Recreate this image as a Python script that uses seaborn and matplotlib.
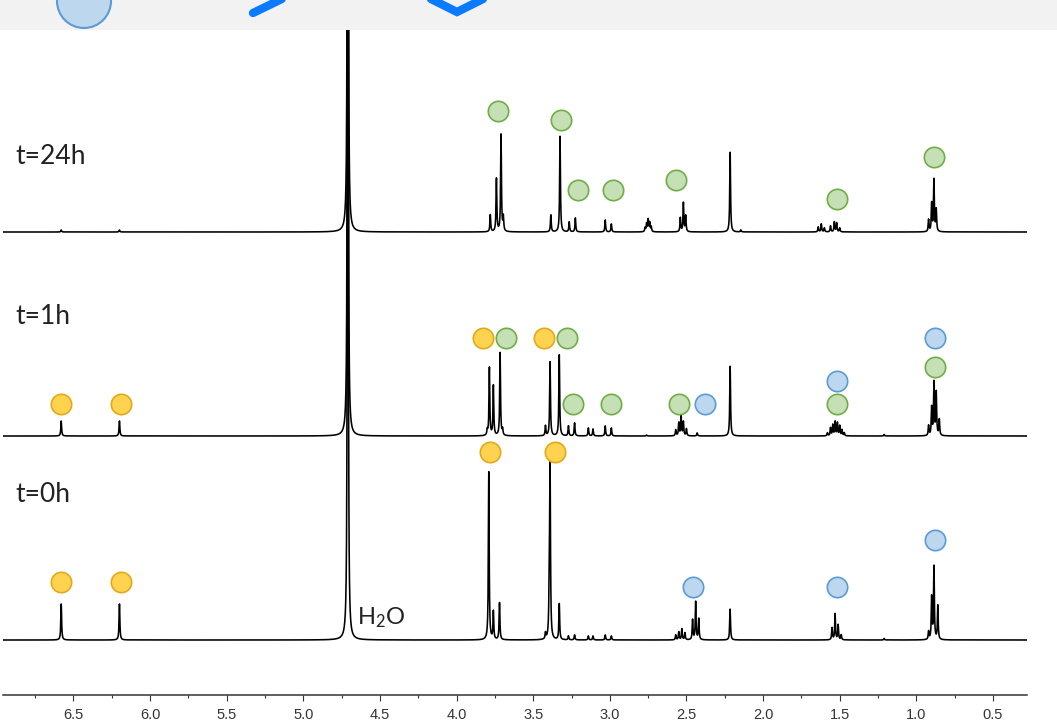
import numpy as np
import pandas as pd
import seaborn as sns
import matplotlib.pyplot as plt
from matplotlib.ticker import MultipleLocator
from matplotlib.patches import Circle, Rectangle

# stacked 1H NMR spectra, peaks (ppm, height)
spectra = ['t=0h', 't=1h', 't=24h']
offsets = [55, 259, 463]

h2o_ppm = 4.71
h2o_height = 5000

ppm_0h = [6.58, 6.20, 3.79, 3.76, 3.72, 3.42, 3.395, 3.39, 3.33, 3.27, 3.23, 3.14, 3.11,
          3.03, 2.99, 2.57, 2.55, 2.53, 2.51, 2.46, 2.44, 2.42, 2.215, 1.55, 1.53, 1.51,
          1.49, 1.21, 0.92, 0.90, 0.885, 0.86]
int_0h = [36, 36, 168, 28, 37, 6, 50, 172, 36, 4, 5, 4, 4,
          5, 4, 5, 8, 11, 7, 20, 38, 21, 31, 12, 26, 15,
          5, 1.5, 8, 42, 73, 34]

ppm_1h = [6.58, 6.20, 3.80, 3.786, 3.76, 3.716, 3.70, 3.42, 3.39, 3.33, 3.27, 3.23, 3.14,
          3.11, 3.03, 2.99, 2.76, 2.57, 2.55, 2.535, 2.52, 2.50, 2.43, 2.215, 1.58, 1.56,
          1.545, 1.53, 1.515, 1.50, 1.485, 1.47, 1.21, 0.92, 0.90, 0.885, 0.87, 0.85]
int_1h = [15, 15, 5, 68, 50, 83, 6, 10, 74, 81, 10, 13, 8,
          7, 10, 8, 1, 6, 13, 21, 14, 7, 3, 70, 3, 8,
          11, 14, 13, 10, 6, 3, 1.5, 10, 28, 53, 43, 16]

ppm_24h = [6.58, 6.20, 3.78, 3.74, 3.71, 3.695, 3.385, 3.325, 3.265, 3.225, 3.03, 2.99,
           2.77, 2.76, 2.75, 2.74, 2.73, 2.54, 2.52, 2.505, 2.215, 2.145, 1.64, 1.62,
           1.60, 1.56, 1.535, 1.52, 1.50, 0.92, 0.90, 0.885, 0.87]
int_24h = [2, 2, 17, 53, 97, 14, 17, 96, 10, 14, 12, 8,
           4, 8, 12, 9, 5, 14, 29, 16, 80, 2, 5, 8,
           4, 6, 10, 9, 4, 12, 28, 52, 22]

peak_ppm = [ppm_0h, ppm_1h, ppm_24h]
peak_int = [int_0h, int_1h, int_24h]

# assignment circles: spectrum index, ppm, height above baseline, species
mark_spec = [2, 2, 2, 2, 2, 2, 2,
             1, 1, 1, 1, 1, 1, 1, 1, 1, 1, 1, 1, 1, 1,
             0, 0, 0, 0, 0, 0, 0]
mark_ppm = [3.73, 3.32, 3.21, 2.98, 2.57, 1.52, 0.885,
            3.83, 3.68, 3.43, 3.28, 6.58, 6.19, 3.24, 2.99, 2.55, 2.38, 1.52, 1.52, 0.88, 0.88,
            3.78, 3.36, 6.58, 6.19, 2.46, 1.52, 0.88]
mark_height = [121, 112, 42, 42, 52, 33, 75,
               98, 98, 98, 98, 32, 32, 32, 32, 32, 32, 55, 32, 98, 69,
               188, 188, 58, 58, 53, 53, 100]
mark_kind = ['green', 'green', 'green', 'green', 'green', 'green', 'green',
             'yellow', 'green', 'yellow', 'green', 'yellow', 'yellow', 'green', 'green', 'green',
             'blue', 'blue', 'green', 'blue', 'green',
             'yellow', 'yellow', 'yellow', 'yellow', 'blue', 'blue', 'blue']

kind_colors = {'yellow': ('#FFD34F', '#E2A919'),
               'green': ('#C5E0B4', '#70AD47'),
               'blue': ('#BDD7EE', '#5B9BD5')}

sns.set_style('white')
plt.rcParams['font.family'] = ['Lato', 'DejaVu Sans']
plt.rcParams['mathtext.fontset'] = 'custom'
plt.rcParams['mathtext.rm'] = 'Lato'
plt.rcParams['mathtext.default'] = 'regular'

# build line shapes (Lorentzian sum) from the peak lists
grid = np.arange(0.27, 6.97, 0.0004)
rows = []
for name, off, pp, ii in zip(spectra, offsets, peak_ppm, peak_int):
    y = np.zeros_like(grid)
    for p, h in zip(pp, ii):
        y += h * 0.003**2 / ((grid - p)**2 + 0.003**2)
    y += h2o_height * 0.0012**2 / ((grid - h2o_ppm)**2 + 0.0012**2)
    rows.append(pd.DataFrame({'ppm': grid, 'intensity': y + off, 'spectrum': name}))
df = pd.concat(rows, ignore_index=True)

marks = pd.DataFrame({'ppm': mark_ppm,
                      'y': [offsets[s] + h for s, h in zip(mark_spec, mark_height)],
                      'kind': mark_kind})

fig = plt.figure(figsize=(10.57, 7.21), dpi=100)

# cropped header strip from the original figure
top = fig.add_axes([0, 0, 1, 1])
top.set_xlim(0, 1057)
top.set_ylim(721, 0)
top.axis('off')
top.add_patch(Rectangle((0, 0), 1057, 30, color='#F2F2F2', lw=0))
top.add_patch(Circle((84, 1), 27, facecolor='#BDD7EE', edgecolor='#5B9BD5', lw=1.5))
top.plot([253, 292], [13, -6], color='#0A7BFF', lw=6, solid_capstyle='round')
top.plot([425, 457, 489], [-4, 12, -4], color='#0A7BFF', lw=6, solid_capstyle='round',
         solid_joinstyle='miter')

ax = fig.add_axes([3 / 1057, 26 / 721, 1024 / 1057, 665 / 721])
ax.set_facecolor('none')
sns.lineplot(data=df, x='ppm', y='intensity', units='spectrum', estimator=None,
             color='black', linewidth=1.15, sort=False, ax=ax, legend=False)

for kind, (fill, edge) in kind_colors.items():
    sub = marks[marks['kind'] == kind]
    sns.scatterplot(data=sub, x='ppm', y='y', s=215, color=fill, edgecolor=edge,
                    linewidth=1.2, zorder=5, ax=ax, legend=False)

for name, off, ty in zip(spectra, offsets, [200, 379, 538]):
    ax.text(6.88, ty, name, fontsize=19, color='#222222', va='center', ha='left')
ax.text(4.65, offsets[0] + 22, r'H$_2$O', fontsize=17, color='#222222', va='center', ha='left')

ax.set_xlim(6.96, 0.278)
ax.set_ylim(0, 665)
ax.set_xlabel('')
ax.set_ylabel('')
ax.set_yticks([])
for side in ['left', 'right', 'top']:
    ax.spines[side].set_visible(False)
ax.spines['bottom'].set_color('#333333')
ax.spines['bottom'].set_linewidth(1.1)
ax.set_xticks(np.arange(0.5, 6.6, 0.5))
ax.set_xticklabels([f'{v:.1f}' for v in np.arange(0.5, 6.6, 0.5)],
                   family=['Liberation Sans Narrow', 'Liberation Sans', 'DejaVu Sans'])
ax.xaxis.set_minor_locator(MultipleLocator(0.25))
ax.tick_params(axis='x', which='both', bottom=True, direction='out', width=0.8,
               color='#333333')
ax.tick_params(axis='x', which='major', length=4.5, pad=5, labelsize=10.5,
               labelcolor='#333333')
ax.tick_params(axis='x', which='minor', length=2.5)

fig.savefig('out.png', dpi=100)
